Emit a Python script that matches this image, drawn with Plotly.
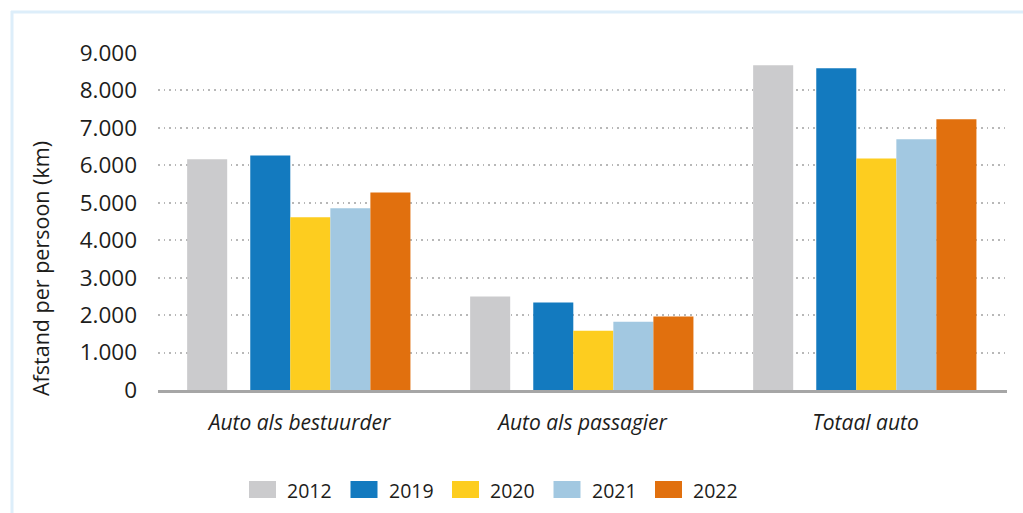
import plotly.graph_objects as go

categories = ["Auto als bestuurder", "Auto als passagier", "Totaal auto"]
years = ["2012", "2019", "2020", "2021", "2022"]
v2012 = [6160, 2495, 8670]
v2019 = [6265, 2335, 8590]
v2020 = [4615, 1585, 6185]
v2021 = [4855, 1825, 6695]
v2022 = [5275, 1960, 7230]
series = [v2012, v2019, v2020, v2021, v2022]
ytick_vals = [0, 1000, 2000, 3000, 4000, 5000, 6000, 7000, 8000, 9000]
ytick_text = ["0", "1.000", "2.000", "3.000", "4.000", "5.000", "6.000", "7.000", "8.000", "9.000"]
y_title = "Afstand per persoon (km)"

colors = ["#CBCBCD", "#137ABF", "#FDCD1F", "#A2C8E1", "#E1700E"]
offsets = [-0.397, -0.174, -0.0325, 0.109, 0.2505]
bar_w = 0.1415

FONT = "Open Sans"
TXT = "#1d1d1b"

W, H = 1023, 513
L, R, T, B = 158, 16, 53, 123
PW = W - L - R
PH = H - T - B


def px(xp):
    return (xp - L) / PW


def py(yp):
    return (H - B - yp) / PH


fig = go.Figure()
for name, vals, col, off in zip(years, series, colors, offsets):
    fig.add_trace(go.Bar(
        x=categories, y=vals, name=name,
        marker=dict(color=col, line=dict(width=0)),
        offset=off, width=bar_w, showlegend=False,
    ))

shapes = []
annotations = []

# frame (light blue, top and left)
shapes.append(dict(type="line", xref="paper", yref="paper",
                   x0=px(11), x1=px(1030), y0=py(12), y1=py(12),
                   line=dict(color="#DDEEFA", width=3)))
shapes.append(dict(type="line", xref="paper", yref="paper",
                   x0=px(12), x1=px(12), y0=py(11), y1=py(520),
                   line=dict(color="#DDEEFA", width=3)))

# custom legend
for i, (name, col) in enumerate(zip(years, colors)):
    x0 = 249 + i * 101.5
    shapes.append(dict(type="rect", xref="paper", yref="paper",
                       x0=px(x0), x1=px(x0 + 27), y0=py(481), y1=py(498),
                       fillcolor=col, line=dict(width=0)))
    annotations.append(dict(xref="paper", yref="paper", x=px(x0 + 36), y=py(490),
                            text=name, showarrow=False, xanchor="left", yanchor="middle",
                            font=dict(family=FONT, size=19.5, color=TXT)))

# y axis title
annotations.append(dict(xref="paper", yref="paper", x=px(40), y=py(269),
                        text=y_title, textangle=-90, showarrow=False,
                        xanchor="center", yanchor="middle",
                        font=dict(family=FONT, size=21.5, color=TXT)))

fig.update_layout(
    width=W, height=H,
    margin=dict(l=L, r=R, t=T, b=B, pad=0),
    barmode="overlay",
    paper_bgcolor="white", plot_bgcolor="white",
    font=dict(family=FONT, color=TXT),
    shapes=shapes, annotations=annotations,
    showlegend=False,
)
fig.update_xaxes(
    type="category", showgrid=False, showline=True, linecolor="#A6A6A6", linewidth=3,
    ticks="", tickfont=dict(family=FONT, size=21, color=TXT, style="italic"),
    ticklabelstandoff=12, zeroline=False,
)
fig.update_yaxes(
    range=[0, 9000], tickvals=ytick_vals, ticktext=ytick_text,
    showgrid=True, gridcolor="#B8B8B8", gridwidth=1.5, griddash="1.6px,4px",
    zeroline=False, showline=False, ticks="",
    tickfont=dict(family=FONT, size=22.5, color=TXT), ticklabelstandoff=20,
)

fig.write_html("out.html", config={"displayModeBar": False},
               post_script="document.body.style.margin='0';document.body.style.overflow='hidden';")
